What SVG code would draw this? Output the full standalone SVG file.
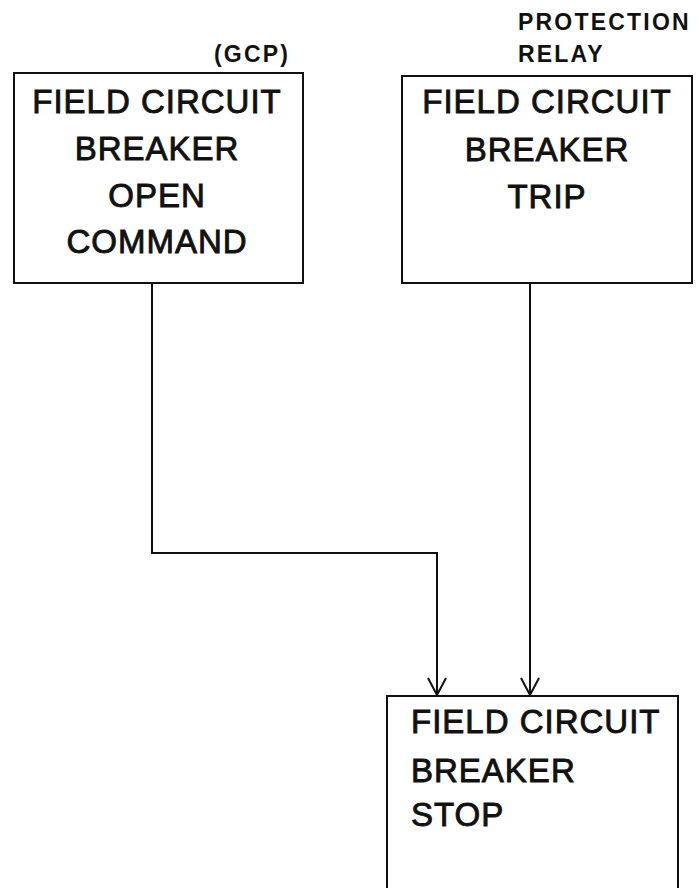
<svg xmlns="http://www.w3.org/2000/svg" width="699" height="888" viewBox="0 0 699 888">
<style>
.box{fill:none;stroke:#111;stroke-width:2}
.t{font-family:"Liberation Sans",Arial,sans-serif;font-size:33px;fill:#111;stroke:#111;stroke-width:0.9px;letter-spacing:1px}
.c{text-anchor:middle}
.lbl{font-family:"Liberation Sans",Arial,sans-serif;font-size:23px;font-weight:bold;fill:#111;letter-spacing:2.2px}
.wire{fill:none;stroke:#111;stroke-width:2}
</style>
<defs>
<marker id="arr" viewBox="0 0 20 20" refX="18" refY="10" markerWidth="20" markerHeight="20" markerUnits="userSpaceOnUse" orient="auto">
<path d="M1,1 L18,10 L1,19" fill="none" stroke="#111" stroke-width="2"/>
</marker>
</defs>
<rect width="699" height="888" fill="#fff"/>
<g id="label-gcp"><text class="lbl" x="214" y="62">(GCP)</text></g>
<g id="label-relay"><text class="lbl" x="518" y="30">PROTECTION</text><text class="lbl" x="518" y="62">RELAY</text></g>
<g id="node-open">
<rect class="box" x="14" y="73" width="289" height="210"/>
<text class="t c" x="157" y="113">FIELD CIRCUIT</text>
<text class="t c" x="157" y="160">BREAKER</text>
<text class="t c" x="157" y="207">OPEN</text>
<text class="t c" x="157" y="253">COMMAND</text>
</g>
<g id="node-trip">
<rect class="box" x="402" y="76" width="290" height="207"/>
<text class="t c" x="547" y="113">FIELD CIRCUIT</text>
<text class="t c" x="547" y="161">BREAKER</text>
<text class="t c" x="547" y="208">TRIP</text>
</g>
<g id="node-stop">
<rect class="box" x="387" y="696" width="291" height="200"/>
<text class="t" x="411" y="733">FIELD CIRCUIT</text>
<text class="t" x="411" y="782">BREAKER</text>
<text class="t" x="411" y="826">STOP</text>
</g>
<g id="connectors">
<path class="wire" d="M152,283 V553 H437 V695" marker-end="url(#arr)"/>
<path class="wire" d="M530,283 V695" marker-end="url(#arr)"/>
</g>
</svg>
